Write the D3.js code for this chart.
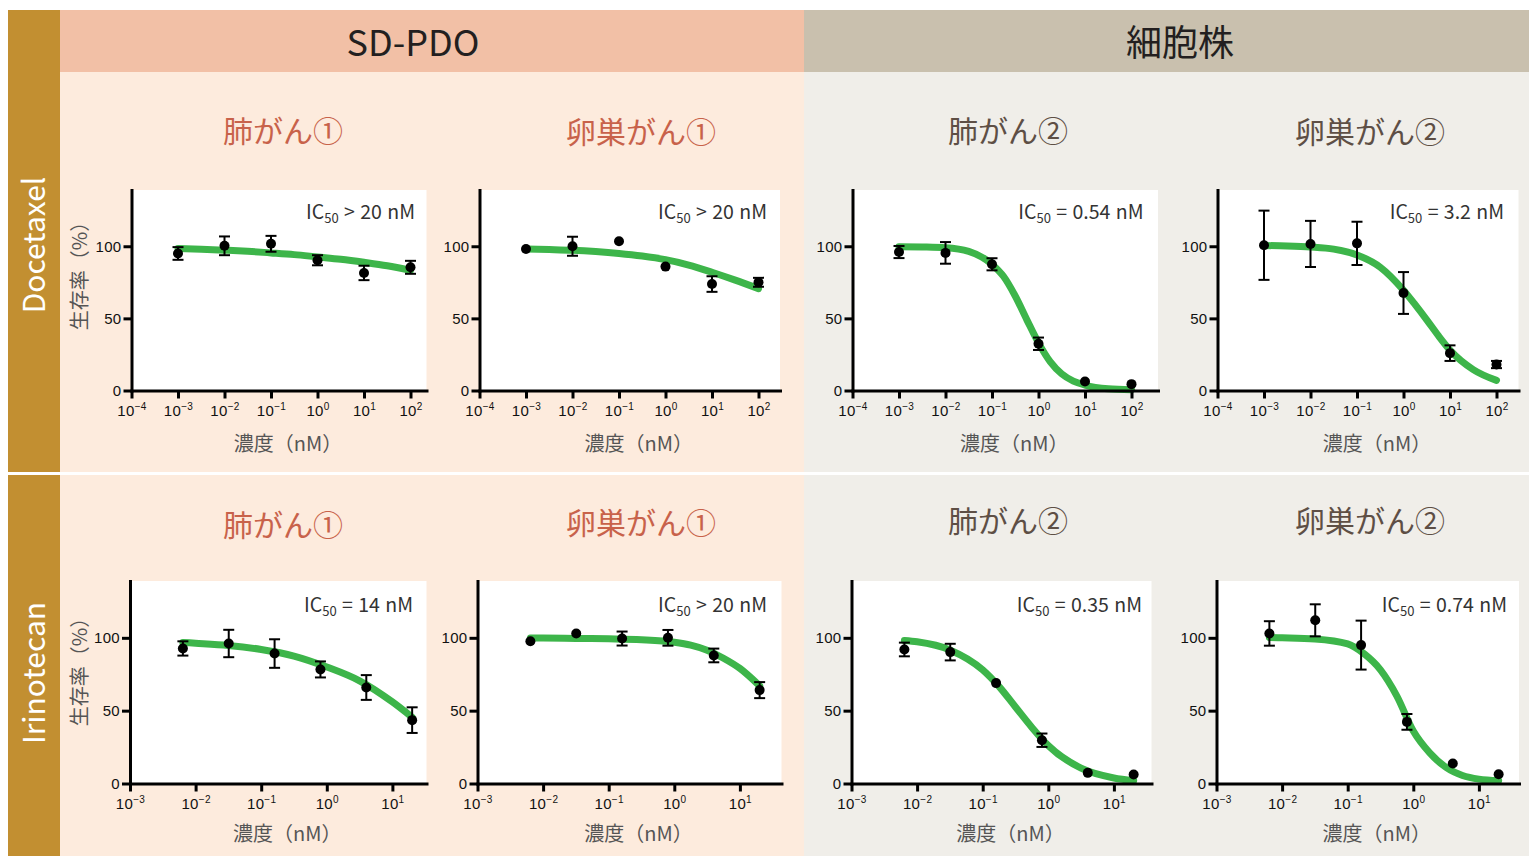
<!DOCTYPE html>
<html><head><meta charset="utf-8">
<script src="https://cdn.jsdelivr.net/npm/d3@7"></script>
<style>body{margin:0;background:#fff}svg{display:block}</style>
</head><body><svg id="c" width="1529" height="856"></svg>
<script>
// ---------------- data ----------------
const rowDrugs = ["Docetaxel", "Irinotecan"];
const groupHeaders = ["SD-PDO", "細胞株"];
const panelTitles = ["肺がん①", "卵巣がん①", "肺がん②", "卵巣がん②"];
const yAxisLabel = "生存率（%）";
const xAxisLabel = "濃度（nM）";

const docConc = [0.001, 0.01, 0.1, 1, 10, 100];
const iriConc = [0.0064, 0.032, 0.16, 0.8, 4, 20];
const docXTicks = [1e-4, 1e-3, 1e-2, 1e-1, 1, 10, 100];
const iriXTicks = [1e-3, 1e-2, 1e-1, 1, 10];
const yTicks = [0, 50, 100];
const docIC50 = ["> 20 nM", "> 20 nM", "= 0.54 nM", "= 3.2 nM"];
const iriIC50 = ["= 14 nM", "> 20 nM", "= 0.35 nM", "= 0.74 nM"];

// Docetaxel – measured points (mean, SD)
const docLung1Mean = [95, 100.3, 101.7, 90.3, 81.5, 85.4];
const docLung1Err  = [4.4, 6.5, 5.5, 3.5, 5, 4.5];
const docOvary1Mean = [98.1, 100, 103.5, 85.9, 73.8, 75];
const docOvary1Err  = [0, 6.6, 0, 0, 5.4, 3.1];
const docLung2Mean = [96, 95.4, 87.5, 32.4, 6.3, 4.4];
const docLung2Err  = [4.2, 7.5, 4.2, 4.3, 0, 0];
const docOvary2Mean = [100.7, 101.6, 102, 67.6, 25.9, 18];
const docOvary2Err  = [24, 16, 15, 14.5, 5.4, 2.5];

// Docetaxel – fitted curves
const docCurveConc = [0.001, 0.00316, 0.01, 0.0316, 0.1, 0.316, 1, 3.16, 10, 31.6, 100];
const docLung1Curve = [98.5, 98, 97.3, 96.5, 95.4, 94.2, 92.6, 91, 88.9, 86.5, 83.3];
const docOvary1Curve = [98.1, 97.7, 97.2, 96.3, 95, 93.2, 90.7, 87, 82, 76.5, 70.6];
const docLung2CurveConc = [0.001, 0.00316, 0.01, 0.0316, 0.1, 0.178, 0.316, 0.562, 1, 1.78, 3.16, 5.62, 10, 31.6, 100];
const docLung2Curve = [99.7, 99.5, 99, 96.5, 87.5, 79, 65.5, 49, 33, 20, 11.5, 6.5, 3.8, 1.2, 0.5];
const docOvary2CurveConc = [0.001, 0.00316, 0.01, 0.0316, 0.1, 0.316, 1, 1.78, 3.16, 5.62, 10, 31.6, 100];
const docOvary2Curve = [100.5, 100.2, 99.5, 98, 94, 85.5, 69.5, 59.5, 49, 38, 28, 14.5, 7];

// Irinotecan – measured points (mean, SD)
const iriLung1Mean = [92.7, 96.1, 89.2, 78.3, 65.9, 43.5];
const iriLung1Err  = [4.9, 9.4, 9.8, 5.5, 8.5, 8.8];
const iriOvary1Mean = [97.7, 103, 99.5, 100, 87.9, 64.1];
const iriOvary1Err  = [0, 0, 4.8, 5.4, 4.7, 5.5];
const iriLung2Mean = [92, 90.2, 68.9, 29.7, 7.3, 6.2];
const iriLung2Err  = [4.7, 5.7, 0, 4.6, 0, 0];
const iriOvary2Mean = [103, 112, 95, 42.3, 13.7, 6.4];
const iriOvary2Err  = [8.4, 11, 16.8, 5.4, 0, 0];

// Irinotecan – fitted curves
const iriLung1CurveConc = [0.0064, 0.01, 0.0316, 0.1, 0.316, 1, 3.16, 10, 20];
const iriLung1Curve = [96.8, 96.3, 94.8, 92, 87.5, 80, 70.5, 56, 45.5];
const iriOvary1CurveConc = [0.0064, 0.01, 0.0316, 0.1, 0.316, 1, 1.78, 3.16, 5.62, 10, 20];
const iriOvary1Curve = [99.8, 99.8, 99.6, 99.3, 98.7, 97, 95, 91.5, 86, 79, 67];
const iriLung2CurveConc = [0.0064, 0.01, 0.0316, 0.1, 0.178, 0.316, 0.562, 1, 3.16, 10, 20];
const iriLung2Curve = [98.2, 97.3, 91.7, 78, 66.5, 52.5, 38.5, 26, 10.5, 3.8, 2];
const iriOvary2CurveConc = [0.0064, 0.01, 0.0316, 0.1, 0.178, 0.316, 0.562, 1, 1.78, 3.16, 5.62, 10, 20];
const iriOvary2Curve = [100.2, 100, 99.2, 95.8, 89, 78, 60, 36, 21, 11, 5.5, 3, 2];

// ---------------- assemble ----------------
const rowData = [
  { conc: docConc, ticks: docXTicks, ic50: docIC50,
    panels: [
      {mean: docLung1Mean, err: docLung1Err, cc: docCurveConc, cv: docLung1Curve},
      {mean: docOvary1Mean, err: docOvary1Err, cc: docCurveConc, cv: docOvary1Curve},
      {mean: docLung2Mean, err: docLung2Err, cc: docLung2CurveConc, cv: docLung2Curve},
      {mean: docOvary2Mean, err: docOvary2Err, cc: docOvary2CurveConc, cv: docOvary2Curve}
    ]},
  { conc: iriConc, ticks: iriXTicks, ic50: iriIC50,
    panels: [
      {mean: iriLung1Mean, err: iriLung1Err, cc: iriLung1CurveConc, cv: iriLung1Curve},
      {mean: iriOvary1Mean, err: iriOvary1Err, cc: iriOvary1CurveConc, cv: iriOvary1Curve},
      {mean: iriLung2Mean, err: iriLung2Err, cc: iriLung2CurveConc, cv: iriLung2Curve},
      {mean: iriOvary2Mean, err: iriOvary2Err, cc: iriOvary2CurveConc, cv: iriOvary2Curve}
    ]}
];

// ---------------- layout ----------------
const layout = [
  { top: 10, bottom: 472, y0: 390.5, yTop: 190, lo: -4, dec: 46.5,
    x0s: [131.5, 479.5, 852.5, 1217.5], xEnds: [426.5, 780, 1158, 1518.5],
    titleY: [131, 132, 131, 132], xLabelY: 444, yLabelY: 271, ic50Y: 219,
    ic50X: [415, 767, 1143.5, 1504], drugY: 245 },
  { top: 475, bottom: 856, y0: 783.5, yTop: 581, lo: -3, dec: 65.6,
    x0s: [130, 477.5, 851.5, 1216.5], xEnds: [426.5, 781.5, 1151.5, 1519],
    titleY: [525, 523, 521, 521], xLabelY: 834, yLabelY: 667, ic50Y: 612,
    ic50X: [413, 767, 1142, 1507], drugY: 673 }
];
const titleX = [283, 641, 1008, 1370];
const JP = "'Noto Sans CJK JP', 'Noto Sans', sans-serif";
const NUM = "'Liberation Sans', Arial, sans-serif";
const colors = {
  gold: "#C28F31", pdoHead: "#F2C0A6", cellHead: "#C9C0AE",
  pdoBody: "#FDEBDD", cellBody: "#F0EEE9",
  titlePdo: "#C8624A", titleCell: "#5E4F45", green: "#3DB54A"
};

const svg = d3.select("#c");

// backgrounds
svg.append("rect").attr("x", 0).attr("y", 0).attr("width", 1529).attr("height", 856).attr("fill", "#fff");
svg.append("rect").attr("x", 60).attr("y", 10).attr("width", 744).attr("height", 62).attr("fill", colors.pdoHead);
svg.append("rect").attr("x", 804).attr("y", 10).attr("width", 725).attr("height", 62).attr("fill", colors.cellHead);
layout.forEach((L, r) => {
  const t = r === 0 ? 72 : L.top;
  svg.append("rect").attr("x", 8).attr("y", L.top).attr("width", 52).attr("height", L.bottom - L.top).attr("fill", colors.gold);
  svg.append("rect").attr("x", 60).attr("y", t).attr("width", 744).attr("height", L.bottom - t).attr("fill", colors.pdoBody);
  svg.append("rect").attr("x", 804).attr("y", t).attr("width", 725).attr("height", L.bottom - t).attr("fill", colors.cellBody);
  svg.append("text").attr("transform", `translate(34,${L.drugY}) rotate(-90)`)
    .attr("text-anchor", "middle").attr("dy", "0.36em")
    .attr("font-family", JP).attr("font-size", 30).attr("fill", "#fff").text(rowDrugs[r]);
});
svg.append("text").attr("x", 413).attr("y", 43).attr("dy", "0.36em").attr("text-anchor", "middle")
  .attr("font-family", JP).attr("font-size", 36).attr("fill", "#231F20").text(groupHeaders[0]);
svg.append("text").attr("x", 1180).attr("y", 43).attr("dy", "0.36em").attr("text-anchor", "middle")
  .attr("font-family", JP).attr("font-size", 36).attr("fill", "#231F20").text(groupHeaders[1]);

function expLabel(d) {
  const e = Math.round(Math.log10(d));
  return e < 0 ? "\u2212" + Math.abs(e) : String(e);
}

layout.forEach((L, r) => {
  const R = rowData[r];
  R.panels.forEach((P, c) => {
    const x0 = L.x0s[c], x1 = L.xEnds[c];
    const hi = L.lo + (x1 - x0) / L.dec;
    const x = d3.scaleLog().domain([Math.pow(10, L.lo), Math.pow(10, hi)]).range([x0, x1]);
    const y = d3.scaleLinear().domain([0, 139]).range([L.y0, L.yTop]);

    const g = svg.append("g");
    // title
    g.append("text").attr("x", titleX[c]).attr("y", L.titleY[c]).attr("dy", "0.36em")
      .attr("text-anchor", "middle").attr("font-family", JP).attr("font-size", 30)
      .attr("fill", c < 2 ? colors.titlePdo : colors.titleCell).text(panelTitles[c]);
    // white plot area
    g.append("rect").attr("x", x0).attr("y", L.yTop).attr("width", x1 - x0).attr("height", L.y0 - L.yTop).attr("fill", "#fff");

    // curve
    const pts = P.cc.map((cc, i) => [x(cc), y(P.cv[i])]);
    g.append("path").attr("d", d3.line().curve(d3.curveMonotoneX)(pts))
      .attr("fill", "none").attr("stroke", colors.green).attr("stroke-width", 7).attr("stroke-linecap", "round");

    // axes
    const xa = g.append("g").attr("transform", `translate(0,${L.y0})`)
      .call(d3.axisBottom(x).tickValues(R.ticks).tickSize(8).tickSizeOuter(0).tickPadding(7));
    xa.selectAll(".tick text").each(function(d) {
      const t = d3.select(this); t.text(null);
      t.append("tspan").text("10");
      t.append("tspan").attr("dy", -6).attr("font-size", 10).text(expLabel(d));
    });
    const ya = g.append("g").attr("transform", `translate(${x0},0)`)
      .call(d3.axisLeft(y).tickValues(yTicks).tickSize(8).tickSizeOuter(0).tickPadding(2).tickFormat(d3.format("d")));
    [xa, ya].forEach(a => {
      a.select(".domain").attr("stroke", "#000").attr("stroke-width", 3).attr("stroke-linecap", "square");
      a.selectAll(".tick line").attr("stroke", "#000").attr("stroke-width", 3);
      a.selectAll(".tick text").attr("font-family", NUM).attr("font-size", 15).attr("fill", "#111").attr("letter-spacing", 0.3);
    });

    // error bars + points
    const cap = 5.5;
    R.conc.forEach((cv, i) => {
      const e = P.err[i]; const px = x(cv);
      if (e > 0) {
        const yt = y(P.mean[i] + e), yb = y(P.mean[i] - e);
        g.append("line").attr("x1", px).attr("x2", px).attr("y1", yt).attr("y2", yb).attr("stroke", "#000").attr("stroke-width", 2);
        [yt, yb].forEach(yy => g.append("line").attr("x1", px - cap).attr("x2", px + cap).attr("y1", yy).attr("y2", yy).attr("stroke", "#000").attr("stroke-width", 2));
      }
      g.append("circle").attr("cx", px).attr("cy", y(P.mean[i])).attr("r", 5).attr("fill", "#000");
    });

    // IC50 label
    const it = g.append("text").attr("x", L.ic50X[c]).attr("y", L.ic50Y).attr("text-anchor", "end")
      .attr("font-family", JP).attr("font-size", 19.5).attr("fill", "#333");
    it.append("tspan").text("IC");
    it.append("tspan").attr("font-size", 13).attr("dy", 4).text("50");
    it.append("tspan").attr("dy", -4).attr("word-spacing", 1).text(" " + R.ic50[c]);

    // axis labels
    g.append("text").attr("x", (x0 + x1) / 2 + 9).attr("y", L.xLabelY).attr("dy", "0.36em").attr("text-anchor", "middle")
      .attr("font-family", JP).attr("font-size", 20).attr("fill", "#555").text(xAxisLabel);
    if (c === 0) {
      g.append("text").attr("transform", `translate(80,${L.yLabelY}) rotate(-90)`).attr("dy", "0.36em")
        .attr("text-anchor", "middle").attr("font-family", JP).attr("font-size", 20).attr("fill", "#555").text(yAxisLabel);
    }
  });
});
</script></body></html>
